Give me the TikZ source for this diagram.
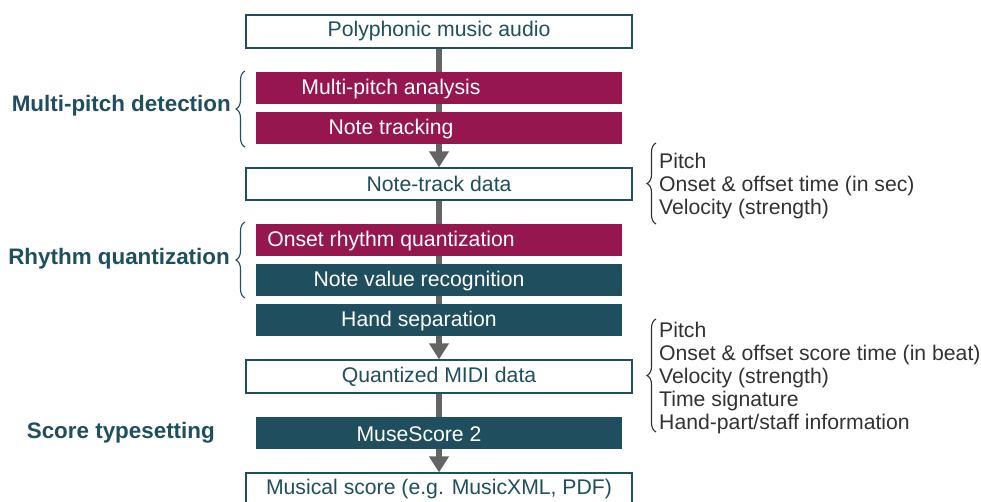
\documentclass[tikz,border=0pt]{standalone}
\usepackage{fontspec}
\setmainfont{Liberation Sans}
\usetikzlibrary{arrows.meta,backgrounds,decorations.pathreplacing}
\definecolor{mag}{RGB}{150,22,80}
\definecolor{myteal}{RGB}{31,79,94}
\definecolor{arrgray}{RGB}{100,100,100}
\definecolor{txtgray}{RGB}{50,50,50}
\begin{document}
\begin{tikzpicture}[x=1pt,y=-1pt,
  font=\fontsize{21.2}{23.2}\selectfont,
  wbox/.style={draw=myteal, line width=1.2pt, fill=white, text=myteal,
    minimum width=386pt, minimum height=32pt, inner sep=0pt},
  cbox/.style={fill=#1, draw=none, minimum width=366pt, minimum height=32pt, inner sep=0pt},
  boxtxt/.style={text=white, inner sep=0pt},
  shaft/.style={draw=arrgray, line width=6pt, -{Triangle[width=19pt,length=16pt]}},
  grouplab/.style={text=myteal, font=\fontsize{22.4}{25}\selectfont\bfseries, inner sep=0pt, anchor=east},
  sidetxt/.style={text=txtgray, align=left, inner sep=0pt, anchor=west},
  lbrace/.style={draw=myteal, line width=1.1pt, decorate, decoration={brace, amplitude=9pt}},
  rbrace/.style={draw=txtgray, line width=1.1pt, decorate, decoration={brace, amplitude=9pt}}
]
\useasboundingbox (0,0) rectangle (981,502);

% boxes
\node[wbox, minimum height=33pt] (top) at (439,31.5) {Polyphonic music audio};
\node[cbox=mag] (mpa) at (439,88) {};
\node[boxtxt] (mpat) at (391,89) {Multi-pitch analysis};
\node[cbox=mag] (nt) at (439,128) {};
\node[boxtxt] (ntt) at (391,129) {Note tracking};
\node[wbox] (ntd) at (439,184) {Note-track data};
\node[cbox=mag] (orq) at (439,240) {};
\node[boxtxt] (orqt) at (391,241) {Onset rhythm quantization};
\node[cbox=myteal] (nvr) at (439,280) {};
\node[boxtxt] (nvrt) at (419,281) {Note value recognition};
\node[cbox=myteal] (hs) at (439,320) {};
\node[boxtxt] (hst) at (419,321) {Hand separation};
\node[wbox, minimum height=33pt] (qmd) at (439,376.5) {Quantized MIDI data};
\node[cbox=myteal] (ms) at (439,433) {};
\node[boxtxt] (mst) at (419,434) {MuseScore 2};
\node[wbox] (msc) at (439,489) {Musical score (e.g. MusicXML, PDF)};

% arrows behind boxes
\begin{scope}[on background layer]
\draw[shaft] (top.south) -- (ntd.north);
\draw[shaft] (ntd.south) -- (qmd.north);
\draw[shaft] (qmd.south) -- (msc.north);
\end{scope}

% group labels
\node[grouplab] (g1) at (231,106) {Multi-pitch detection};
\node[grouplab] (g2) at (230,259) {Rhythm quantization};
\node[grouplab] (g3) at (215,433) {Score typesetting};
\draw[lbrace] (245,147) -- (245,71);
\draw[lbrace] (245,298) -- (245,222);

% side notes
\draw[rbrace] (656,224) -- (656,143);
\node[sidetxt] (s1) at (659,186) {Pitch\\Onset \& offset time (in sec)\\Velocity (strength)};
\draw[rbrace] (656,432) -- (656,319);
\node[sidetxt] (s2) at (659,378) {Pitch\\Onset \& offset score time (in beat)\\Velocity (strength)\\Time signature\\Hand-part/staff information};
\end{tikzpicture}
\end{document}
